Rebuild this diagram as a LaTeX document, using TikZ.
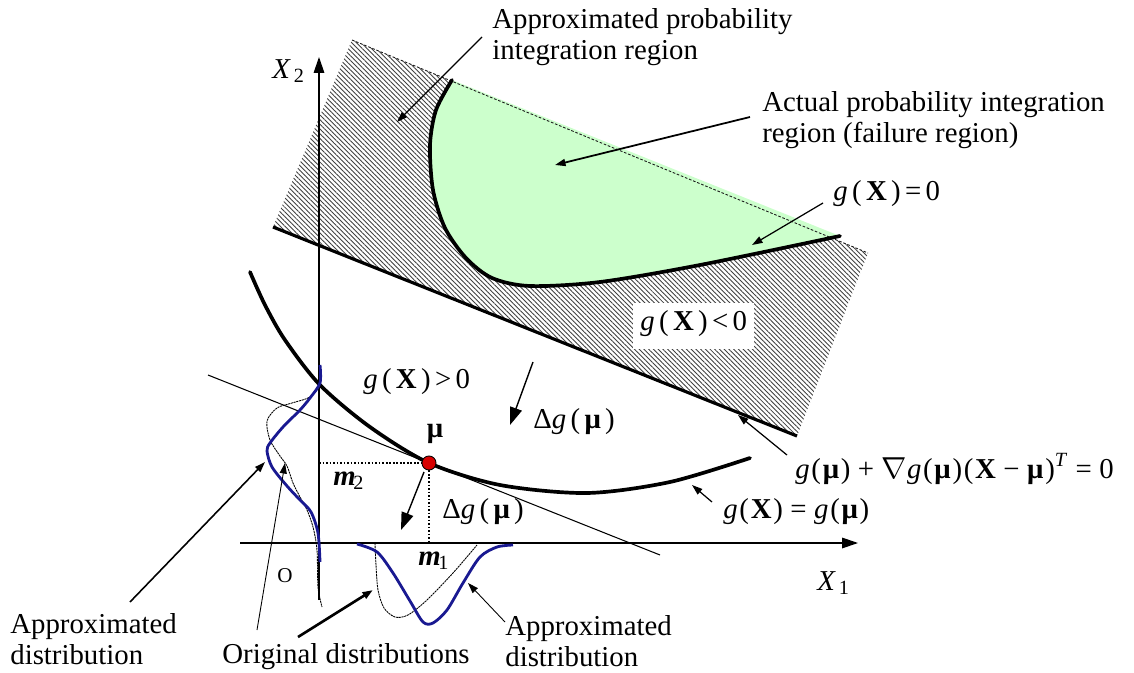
\documentclass[tikz,border=0pt]{standalone}
\usepackage{fontspec}
\setmainfont{Liberation Serif}
\usetikzlibrary{arrows.meta,patterns.meta}
\definecolor{failgreen}{RGB}{204,255,204}
\definecolor{distblue}{RGB}{25,25,145}
\definecolor{mured}{RGB}{215,0,0}
\newcommand{\ks}{\kern0.15em}
\newcommand{\kp}{\kern0.06em}
\newcommand{\ko}{\kern0.26em}
\newcommand{\gfun}{\textit{g}}
\newcommand{\bX}{\textbf{X}}
\newcommand{\bmu}{\textbf{μ}}
\begin{document}
\begin{tikzpicture}[x=0.02cm,y=-0.02cm,
  every node/.style={inner sep=0pt, font=\fontsize{16.4pt}{17.6pt}\selectfont},
  thickcurve/.style={line width=2.1pt, line cap=round, line join=round},
  thinline/.style={line width=0.6pt},
  origdist/.style={line width=0.5pt, dash pattern=on 1.2pt off 0.4pt},
  approxdist/.style={line width=1.6pt, draw=distblue, line join=round},
  guide/.style={line width=0.6pt, dash pattern=on 1pt off 1pt},
  axisline/.style={line width=0.7pt, -{Triangle[length=9pt,width=6pt]}},
  ann/.style={line width=0.7pt, -{Triangle[length=6pt,width=4pt]}},
  bigann/.style={line width=0.8pt, -{Triangle[length=10pt,width=7pt]}},
  lbl/.style={anchor=base west},
  ]
\useasboundingbox (0,0) rectangle (1134,673);

% ---------- hatched (approximated) region ----------
\coordinate (H1) at (352,40);
\coordinate (H2) at (868,253);
\coordinate (H3) at (797,436);
\coordinate (H4) at (273,227);
\fill[pattern={Lines[angle=-45,distance=1.9pt,line width=0.5pt]}, pattern color=black!75]
  (H1) -- (H2) -- (H3) -- (H4) -- cycle;

% ---------- actual failure region ----------
\fill[failgreen] plot[smooth] coordinates {(452,80) (436,110) (430,145) (433,190) (445,228) (466,258) (492,278) (530,286) (600,282) (700,265) (840,236)} -- cycle;
\draw[line width=0.5pt, black!90, dash pattern=on 1.5pt off 1pt] (H1) -- (H2);
\draw[thickcurve] plot[smooth] coordinates {(452,80) (436,110) (430,145) (433,190) (445,228) (466,258) (492,278) (530,286) (600,282) (700,265) (840,236)};
\draw[line width=1.8pt] (H4) -- (H3);

% white label box in hatched region
\node[lbl, fill=white, inner xsep=4pt, inner ysep=4pt, text depth=7pt] (glt) at (633,330) {\gfun\ks(\ks\bX\ks)\ks<\ks0};

% ---------- axes ----------
\coordinate (ax2s) at (319,600);
\coordinate (ax2e) at (319,57);
\coordinate (ax1s) at (240,543);
\coordinate (ax1e) at (858,543);
\draw[axisline] (ax2s) -- (ax2e);
\draw[axisline] (ax1s) -- (ax1e);

% ---------- limit state g(X)=g(mu) and tangent ----------
\draw[thickcurve] plot[smooth] coordinates {(250,272) (265,305) (285,340) (320,385) (370,427) (429,463) (500,485) (587,493) (670,482) (750,458)};
\coordinate (tl1) at (208,375);
\coordinate (tl2) at (660,555);
\draw[thinline] (tl1) -- (tl2);

% ---------- mean point ----------
\node[circle, fill=mured, draw=black, line width=0.5pt, minimum size=8pt] (mu) at (429,463) {};
\coordinate (m2p) at (319,463);
\coordinate (m1p) at (429,543);
\draw[guide] (m2p) -- (mu.west);
\draw[guide] (mu.south) -- (m1p);

% ---------- distributions ----------
\draw[origdist] plot[smooth] coordinates {(320,385) (310,397) (292,403) (277,408) (267,421) (270,440) (280,456) (287,466) (293,483) (300,497) (307,510) (313,527) (317,550) (318,587) (322,607)};
\draw[approxdist] plot[smooth] coordinates {(320,365) (320,383) (310,398) (300,410) (283,427) (270,443) (267,451) (272,467) (287,486) (300,500) (311,512) (318,533) (320,562)};
\draw[origdist] plot[smooth] coordinates {(375,543) (376,565) (378,590) (384,608) (395,617) (408,615) (427,600) (453,573) (477,545)};
\draw[approxdist] plot[smooth] coordinates {(357,544) (377,552) (393,573) (410,601) (423,622) (433,623) (447,610) (463,583) (480,557) (497,547) (513,545)};

% ---------- labels ----------
\node[anchor=north west, align=left] (apr) at (492,8) {Approximated probability\\integration region};
\node[anchor=north west, align=left] (act) at (762,91) {Actual probability integration\\region (failure region)};
\node[lbl] (g0) at (833,200) {\gfun\ks(\ks\bX\ks)\ks=\ks0};
\node[lbl] (ggt) at (363,388) {\gfun\ks(\ks\bX\ks)\ks>\ks0};
\node[lbl] (dg1) at (533,428) {Δ\gfun\ks(\ks\bmu\ks)};
\node[anchor=base] (mulbl) at (435,437) {\bmu};
\node[lbl] (dg2) at (442,518) {Δ\gfun\ks(\ks\bmu\ks)};
\node[lbl] (m2) at (333,485) {\textbf{\textit{m}}\kern-0.08em\textsubscript{2}};
\node[lbl] (m1) at (418,565) {\textbf{\textit{m}}\kern-0.08em\textsubscript{1}};
\node[font=\fontsize{12pt}{13pt}\selectfont] (orig) at (285,576) {O};
\node[lbl] (geq) at (723,518) {\gfun\kp(\kp\bX\kp)\ko=\ko\gfun\kp(\kp\bmu\kp)};
\node[lbl] (tan) at (795,478) {\gfun\kp(\kp\bmu\kp)\ko+\ko$\nabla$\gfun\kp(\kp\bmu\kp)\kp(\kp\bX\ko−\ko\bmu\kp)\textsuperscript{\textit{T}}\ko=\ko0};
\node[lbl] (x1) at (817,590) {\textit{X}\kern0.1em\textsubscript{1}};
\node[lbl] (x2) at (272,78) {\textit{X}\kern0.1em\textsubscript{2}};
\node[anchor=north west, align=left] (appl) at (10,613) {Approximated\\distribution};
\node[lbl] (origd) at (222,663) {Original distributions};
\node[anchor=north west, align=left] (appr) at (505,615) {Approximated\\distribution};

% ---------- annotation arrows ----------
\coordinate (a1s) at (482,37);  \coordinate (a1e) at (397,122);
\coordinate (a2s) at (750,117); \coordinate (a2e) at (555,165);
\coordinate (a3s) at (823,203); \coordinate (a3e) at (752,245);
\coordinate (a4s) at (787,455); \coordinate (a4e) at (738,415);
\coordinate (a5s) at (712,502); \coordinate (a5e) at (692,485);
\coordinate (a6s) at (533,362); \coordinate (a6e) at (510,425);
\coordinate (a7s) at (424,472); \coordinate (a7e) at (401,530);
\coordinate (a8s) at (130,602); \coordinate (a8e) at (265,462);
\coordinate (a9s) at (257,630); \coordinate (a9e) at (285,463);
\coordinate (a10s) at (298,637); \coordinate (a10e) at (373,590);
\coordinate (a11s) at (505,622); \coordinate (a11e) at (468,583);
\draw[ann] (a1s) -- (a1e);
\draw[ann, line width=1pt] (a2s) -- (a2e);
\draw[ann] (a3s) -- (a3e);
\draw[ann] (a4s) -- (a4e);
\draw[ann] (a5s) -- (a5e);
\draw[bigann] (a6s) -- (a6e);
\draw[bigann] (a7s) -- (a7e);
\draw[ann, line width=0.9pt] (a8s) -- (a8e);
\draw[ann, line width=0.5pt] (a9s) -- (a9e);
\draw[ann, line width=1.5pt] (a10s) -- (a10e);
\draw[ann, line width=0.5pt] (a11s) -- (a11e);
\end{tikzpicture}
\end{document}
